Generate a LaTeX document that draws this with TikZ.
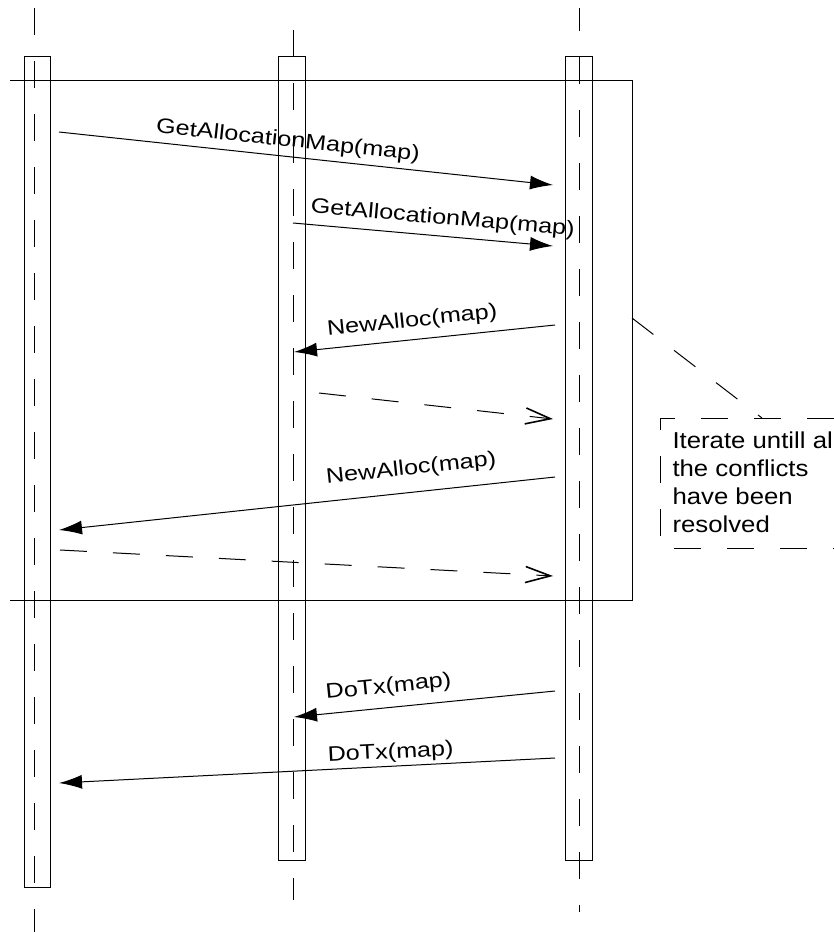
\documentclass[tikz,border=0pt]{standalone}
\usepackage{fontspec}
\setmainfont{Liberation Sans}
\newfontfamily\lblfont[FakeStretch=1.2]{Liberation Sans}
\newfontfamily\notefont[FakeStretch=1.12]{Liberation Sans}
\usetikzlibrary{arrows.meta}
\begin{document}
\begin{tikzpicture}[x=1pt,y=-1pt,line width=1pt,
  lifeline/.style={dash pattern=on 27pt off 26pt},
  bar/.style={draw,rectangle,inner sep=0pt,anchor=north west,minimum width=26pt},
  msg/.style={-{Latex[length=23pt,width=14pt]}},
  rmsg/.style={{Latex[length=23pt,width=14pt]}-},
  reply/.style={dash pattern=on 27pt off 26pt,-{Straight Barb[length=25pt,width=16pt,line width=1.6pt]}},
  lbl/.style={sloped,above,inner sep=0pt,font=\lblfont\fontsize{21}{24}\selectfont},
  notetext/.style={anchor=north west,align=left,inner sep=0pt,font=\notefont\fontsize{23}{28}\selectfont},
  notebox/.style={dash pattern=on 27pt off 26pt}
]
\useasboundingbox (0,0) rectangle (834,932);
\begin{scope}
\clip (0,0) rectangle (834,932);

% lifelines
\coordinate (LAt) at (34,8);   \coordinate (LAb) at (34,932);
\coordinate (LBt) at (293,30); \coordinate (LBb) at (293,900);
\coordinate (LCt) at (579,8);  \coordinate (LCb) at (579,912);
\draw[lifeline] (LAt) -- (LAb);
\draw[lifeline] (LBt) -- (LBb);
\draw[lifeline,dash phase=4pt] (LCt) -- (LCb);

% activation bars
\node[bar,minimum height=831pt] (A) at (24,56) {};
\node[bar,minimum height=804pt,minimum width=27pt] (B) at (278,56) {};
\node[bar,minimum height=804pt,minimum width=27pt] (C) at (565,56) {};

% loop frame
\coordinate (F1) at (10,80);
\coordinate (F2) at (632,80);
\coordinate (F3) at (632,600);
\coordinate (F4) at (10,600);
\draw (F1) -- (F2) -- (F3) -- (F4);

% message end points
\coordinate (m1s) at (59,132);  \coordinate (m1e) at (553,185);
\coordinate (m2s) at (293,223); \coordinate (m2e) at (553,246);
\coordinate (m3s) at (294,352); \coordinate (m3e) at (555,325);
\coordinate (m4s) at (319,393); \coordinate (m4e) at (553,419);
\coordinate (m5s) at (59,530);  \coordinate (m5e) at (555,477);
\coordinate (m6s) at (60,550);  \coordinate (m6e) at (553,576);
\coordinate (m7s) at (294,717); \coordinate (m7e) at (555,691);
\coordinate (m8s) at (59,783);  \coordinate (m8e) at (555,758);

\draw[msg] (m1s) -- node[lbl,pos=0.46,yshift=5pt] {GetAllocationMap(map)} (m1e);
\draw[msg] (m2s) -- node[lbl,pos=0.57,yshift=7pt] {GetAllocationMap(map)} (m2e);
\draw[rmsg] (m3s) -- node[lbl,pos=0.46,yshift=8pt] {NewAlloc(map)} (m3e);
\draw[reply] (m4s) -- (m4e);
\draw[rmsg] (m5s) -- node[lbl,pos=0.715,yshift=13pt] {NewAlloc(map)} (m5e);
\draw[reply] (m6s) -- (m6e);
\draw[rmsg] (m7s) -- node[lbl,pos=0.37,yshift=10pt] {DoTx(map)} (m7e);
\draw[rmsg] (m8s) -- node[lbl,pos=0.67,yshift=3pt] {DoTx(map)} (m8e);

% note
\coordinate (N1) at (834,418);
\coordinate (N2) at (660,418);
\coordinate (N3) at (660,548);
\coordinate (N4) at (834,548);
\draw[notebox] (N1) -- (N2) -- (N3) -- (N4);
\node[notetext] (note) at (672,431) {Iterate untill al\\the conflicts\\have been\\resolved};
\coordinate (na) at (762,418);
\draw[notebox] (F3 |- 0,318) -- (na);
\end{scope}
\end{tikzpicture}
\end{document}
